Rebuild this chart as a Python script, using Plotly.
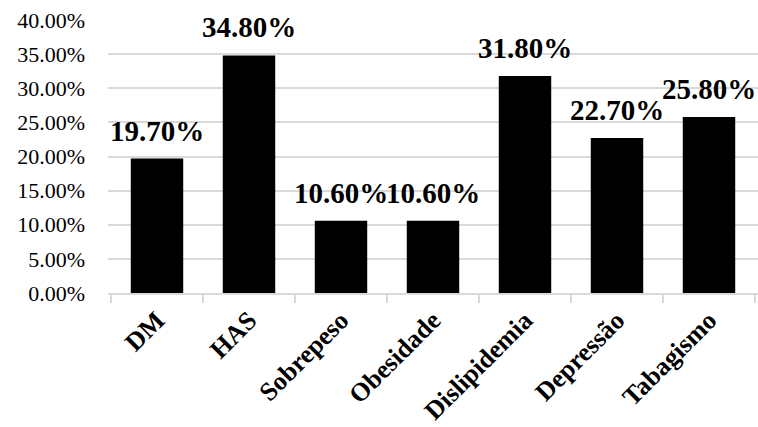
import plotly.graph_objects as go

categories = ["DM", "HAS", "Sobrepeso", "Obesidade", "Dislipidemia", "Depressão", "Tabagismo"]
prevalence = [0.197, 0.348, 0.106, 0.106, 0.318, 0.227, 0.258]
y_ticks = [0, 0.05, 0.10, 0.15, 0.20, 0.25, 0.30, 0.35, 0.40]

serif = "Liberation Serif, Times New Roman, serif"

fig = go.Figure(
    go.Bar(
        x=categories,
        y=prevalence,
        marker=dict(color="black", line=dict(width=0)),
        width=0.57,
    )
)

# value labels above each bar
for cat, val in zip(categories, prevalence):
    fig.add_annotation(
        x=cat,
        y=val,
        text=f"<b>{val:.2%}</b>",
        showarrow=False,
        yanchor="bottom",
        xanchor="center",
        yshift=10,
        font=dict(family=serif, size=29, color="black"),
    )

fig.update_layout(
    width=758,
    height=427,
    margin=dict(l=108, r=0, t=20, b=134),
    plot_bgcolor="white",
    paper_bgcolor="white",
    showlegend=False,
    font=dict(family=serif, color="black"),
)

fig.update_yaxes(
    range=[0, 0.40],
    tickvals=y_ticks,
    tickformat=".2%",
    tickfont=dict(family=serif, size=22, color="black"),
    showgrid=True,
    gridcolor="#d9d9d9",
    gridwidth=1.5,
    zeroline=False,
    showline=False,
    ticks="",
    ticklabelstandoff=22,
    automargin=False,
)

fig.update_xaxes(
    tickangle=-45,
    tickfont=dict(family=serif, size=26, color="black"),
    tickprefix="<b>",
    ticksuffix="</b>",
    showline=True,
    linecolor="#d9d9d9",
    linewidth=1.5,
    ticks="outside",
    tickson="boundaries",
    ticklen=8,
    tickcolor="#d9d9d9",
    tickwidth=1.5,
    automargin=False,
)

fig.write_html("out.html")
